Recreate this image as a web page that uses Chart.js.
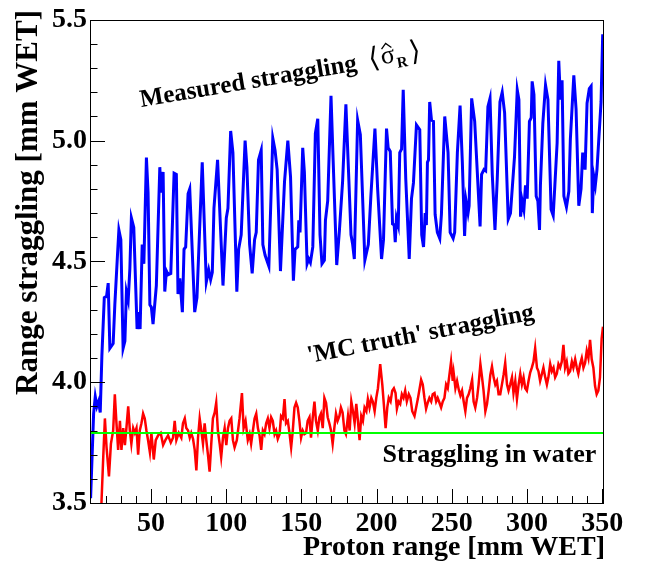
<!DOCTYPE html>
<html>
<head>
<meta charset="utf-8">
<script src="https://cdn.jsdelivr.net/npm/chart.js@4.4.0/dist/chart.umd.min.js"></script>
<style>
  html, body { margin: 0; padding: 0; background: #fff; }
  #wrap { width: 648px; height: 566px; }
</style>
</head>
<body>
<div id="wrap"><canvas id="chart"></canvas></div>
<script>
// ---------------------- Data ----------------------
const measuredX = [9.9, 11.9, 13.0, 14.1, 15.2, 16.3, 17.4, 19.0, 20.5, 21.6,
  22.7, 24.9, 26.0, 27.8, 28.7, 30.0, 31.5, 32.7, 33.7, 34.9,
  36.0, 37.0, 38.6, 40.8, 42.0, 42.8, 44.2, 45.3, 47.0, 48.1,
  49.3, 50.3, 51.4, 53.6, 55.9, 56.7, 58.1, 59.2, 60.3, 61.4,
  63.2, 65.4, 66.9, 68.0, 69.2, 70.9, 72.0, 73.1, 74.7, 75.8,
  79.1, 80.6, 84.1, 86.8, 88.4, 89.7, 90.8, 91.9, 94.3, 97.9,
  100.1, 101.2, 103.0, 104.5, 107.1, 108.3, 110.0, 112.6, 113.8, 115.6,
  117.3, 118.9, 120.0, 121.5, 123.3, 124.4, 125.9, 128.4, 131.0, 132.5,
  133.9, 136.1, 138.8, 141.0, 142.8, 144.7, 145.8, 147.6, 148.3, 149.1,
  150.9, 152.0, 153.8, 154.9, 156.0, 157.6, 159.3, 160.9, 162.4, 163.7,
  165.3, 166.0, 167.5, 169.7, 171.0, 173.5, 175.2, 177.4, 179.6, 183.0,
  184.1, 185.2, 187.4, 189.2, 192.2, 194.5, 196.2, 198.9, 200.7, 203.3,
  204.6, 206.6, 207.7, 209.1, 210.6, 211.7, 212.4, 213.2, 214.4, 215.4,
  216.6, 217.7, 219.4, 221.7, 223.2, 224.5, 226.5, 228.7, 230.0, 231.2,
  232.3, 233.1, 233.8, 234.5, 235.3, 236.5, 237.8, 238.9, 240.4, 242.0,
  243.1, 245.3, 247.5, 248.9, 250.9, 251.9, 253.7, 255.5, 257.0, 258.5,
  259.5, 260.8, 261.5, 263.2, 265.2, 268.8, 269.8, 271.4, 272.5, 274.0,
  275.4, 276.9, 278.7, 280.2, 282.0, 283.5, 285.1, 287.5, 289.0, 291.7,
  293.5, 294.6, 295.7, 296.8, 297.9, 299.0, 300.1, 301.6, 302.8, 303.4,
  304.6, 306.1, 307.2, 308.3, 308.9, 310.5, 312.3, 313.9, 316.0, 317.4,
  318.5, 320.0, 321.1, 322.2, 323.3, 324.5, 326.2, 327.8, 328.8, 331.1,
  332.6, 334.4, 335.9, 337.0, 338.6, 339.9, 341.4, 342.6, 343.4, 344.3,
  345.4, 346.5, 349.2, 350.3];
const measuredY = [3.52, 3.87, 3.94, 3.90, 3.92, 3.875, 4.11, 4.35, 4.355, 4.41,
  4.14, 4.16, 4.32, 4.53, 4.63, 4.59, 4.14, 4.17, 4.375, 4.34,
  4.47, 4.68, 4.64, 4.22, 4.29, 4.22, 4.57, 4.49, 4.93, 4.785,
  4.32, 4.31, 4.24, 4.40, 4.89, 4.785, 4.87, 4.375, 4.46, 4.445,
  4.45, 4.865, 4.86, 4.365, 4.43, 4.29, 4.55, 4.56, 4.78, 4.80,
  4.29, 4.35, 4.91, 4.415, 4.465, 4.425, 4.455, 4.72, 4.92, 4.40,
  4.68, 4.72, 5.04, 4.95, 4.375, 4.55, 4.61, 5.00, 4.89, 4.57,
  4.45, 4.59, 4.62, 4.92, 4.96, 4.57, 4.525, 4.48, 5.01, 4.96,
  4.88, 4.46, 4.83, 5.00, 4.85, 4.42, 4.55, 4.56, 4.67, 4.62,
  4.97, 4.87, 4.49, 4.51, 4.495, 4.56, 5.03, 5.09, 4.61, 4.49,
  4.505, 4.67, 4.75, 5.185, 4.94, 4.485, 4.62, 4.83, 5.15, 4.61,
  4.57, 4.51, 5.085, 5.025, 4.505, 4.57, 4.77, 5.05, 4.80, 4.51,
  4.59, 5.05, 4.97, 4.955, 4.655, 4.65, 4.58, 4.68, 4.65, 4.95,
  4.965, 5.21, 4.84, 4.51, 4.76, 4.825, 5.065, 5.045, 4.61, 4.56,
  4.70, 4.65, 4.91, 4.92, 5.16, 5.085, 5.08, 4.695, 4.62, 4.595,
  4.695, 5.10, 4.95, 4.62, 4.595, 4.62, 4.95, 5.145, 4.91, 4.605,
  4.75, 4.70, 4.73, 5.175, 5.08, 4.645, 4.86, 4.88, 4.875, 5.14,
  5.175, 4.86, 4.63, 4.84, 5.16, 5.20, 5.115, 4.675, 4.70, 4.935,
  5.21, 5.17, 4.685, 4.75, 4.715, 4.815, 4.76, 5.08, 5.095, 5.245,
  5.19, 4.77, 4.75, 4.63, 4.815, 5.07, 5.23, 5.17, 4.715, 4.69,
  4.815, 4.99, 5.33, 5.17, 5.25, 4.77, 4.725, 4.79, 5.005, 5.27,
  5.13, 4.73, 4.80, 4.95, 4.88, 5.155, 5.215, 5.225, 4.70, 4.855,
  4.815, 4.88, 5.16, 5.44];

const mcTruthX = [16.5, 18.3, 19.4, 20.5, 22.1, 23.4, 24.9, 26.0, 27.1, 28.2,
  29.4, 30.4, 31.6, 32.7, 33.7, 34.9, 36.0, 37.0, 38.2, 39.3,
  40.4, 41.5, 42.6, 43.7, 44.8, 45.9, 47.0, 48.1, 49.3, 50.3,
  51.9, 53.2, 54.8, 56.5, 58.1, 59.6, 61.4, 63.2, 64.7, 65.8,
  66.9, 68.5, 70.2, 71.3, 72.5, 73.5, 74.7, 75.8, 76.8, 78.0,
  79.1, 80.2, 81.3, 82.4, 83.5, 84.6, 85.7, 86.8, 87.9, 89.0,
  90.1, 91.2, 92.4, 93.4, 94.5, 95.7, 96.7, 97.9, 99.0, 100.1,
  101.2, 102.3, 103.4, 104.5, 105.6, 107.1, 108.9, 110.5, 111.6, 112.9,
  114.4, 115.6, 116.6, 117.8, 118.9, 120.0, 121.1, 122.2, 123.3, 124.4,
  125.5, 126.6, 127.7, 128.8, 129.9, 131.0, 132.2, 133.2, 134.3, 135.5,
  136.5, 137.7, 138.8, 139.8, 141.0, 142.1, 143.2, 144.3, 145.4, 146.5,
  147.6, 148.7, 149.8, 150.9, 152.0, 153.1, 154.2, 155.4, 156.4, 157.5,
  158.7, 159.7, 160.9, 162.0, 163.0, 164.2, 165.3, 166.4, 167.5, 168.6,
  169.7, 170.8, 171.9, 173.0, 174.1, 175.3, 176.3, 177.4, 178.6, 179.6,
  181.0, 182.1, 183.2, 184.3, 185.4, 186.5, 187.6, 188.7, 189.8, 190.9,
  192.0, 193.2, 194.2, 195.3, 196.5, 197.5, 198.7, 199.8, 200.9, 202.4,
  203.8, 204.8, 206.0, 207.1, 208.1, 209.3, 210.4, 211.5, 212.6, 213.5,
  214.6, 215.7, 216.8, 217.9, 219.0, 220.1, 221.4, 222.5, 223.7, 225.2,
  226.3, 227.4, 228.5, 229.6, 230.7, 231.8, 232.9, 234.0, 235.1, 236.3,
  237.3, 238.5, 239.6, 240.6, 241.8, 242.9, 244.0, 245.1, 246.2, 247.3,
  248.4, 249.5, 250.6, 251.2, 252.4, 253.5, 254.6, 255.7, 256.8, 257.9,
  259.0, 260.1, 261.2, 262.3, 263.5, 264.5, 265.6, 266.8, 267.8, 269.0,
  270.1, 271.1, 272.3, 273.4, 274.5, 275.6, 276.7, 277.8, 278.9, 280.0,
  281.1, 282.2, 283.3, 284.4, 285.5, 286.7, 287.7, 288.8, 290.0, 291.0,
  292.2, 293.3, 294.4, 295.5, 296.6, 297.7, 298.8, 299.9, 301.0, 302.1,
  303.2, 304.3, 305.4, 306.6, 307.6, 308.7, 309.9, 310.9, 312.1, 313.2,
  314.2, 315.4, 316.5, 317.6, 318.7, 319.8, 320.9, 322.0, 323.1, 324.2,
  325.3, 326.4, 327.5, 328.6, 329.8, 330.8, 332.0, 333.1, 334.1, 335.3,
  336.4, 337.5, 338.6, 339.7, 340.8, 341.9, 343.0, 344.1, 345.2, 346.3,
  347.4, 348.5, 349.6, 350.5];
const mcTruthY = [3.40, 3.69, 3.85, 3.73, 3.61, 3.745, 3.80, 3.95, 3.83, 3.72,
  3.84, 3.72, 3.81, 3.74, 3.81, 3.90, 3.80, 3.745, 3.81, 3.79,
  3.81, 3.70, 3.80, 3.83, 3.87, 3.85, 3.80, 3.76, 3.71, 3.79,
  3.68, 3.76, 3.78, 3.79, 3.74, 3.76, 3.78, 3.75, 3.77, 3.84,
  3.76, 3.79, 3.77, 3.83, 3.85, 3.81, 3.80, 3.77, 3.79, 3.765,
  3.72, 3.635, 3.77, 3.85, 3.80, 3.745, 3.83, 3.76, 3.70, 3.63,
  3.745, 3.85, 3.875, 3.915, 3.80, 3.745, 3.69, 3.77, 3.81, 3.74,
  3.81, 3.84, 3.85, 3.76, 3.73, 3.76, 3.85, 3.955, 3.81, 3.84,
  3.76, 3.785, 3.745, 3.80, 3.85, 3.87, 3.81, 3.78, 3.72, 3.80,
  3.785, 3.83, 3.85, 3.81, 3.855, 3.84, 3.785, 3.80, 3.765, 3.785,
  3.86, 3.85, 3.93, 3.83, 3.84, 3.79, 3.73, 3.80, 3.895, 3.915,
  3.895, 3.84, 3.77, 3.80, 3.785, 3.79, 3.84, 3.855, 3.77, 3.85,
  3.92, 3.84, 3.80, 3.855, 3.87, 3.81, 3.935, 3.915, 3.855, 3.83,
  3.80, 3.745, 3.81, 3.87, 3.84, 3.86, 3.895, 3.875, 3.80, 3.785,
  3.86, 3.80, 3.92, 3.88, 3.83, 3.91, 3.84, 3.76, 3.86, 3.84,
  3.895, 3.88, 3.93, 3.895, 3.935, 3.92, 3.88, 3.935, 3.975, 4.075,
  3.99, 3.91, 3.81, 3.895, 3.935, 3.92, 3.965, 3.975, 3.955, 3.89,
  3.92, 3.91, 3.95, 3.935, 3.965, 3.92, 3.95, 3.935, 3.88, 3.86,
  3.895, 3.93, 3.97, 4.01, 3.99, 3.935, 3.89, 3.915, 3.935, 3.92,
  3.95, 3.955, 3.92, 3.935, 3.915, 3.895, 3.92, 3.935, 3.99, 3.975,
  4.03, 4.085, 4.005, 4.04, 3.975, 4.005, 3.97, 3.945, 3.965, 3.92,
  3.88, 3.935, 3.95, 3.975, 4.01, 3.92, 3.895, 3.935, 3.99, 4.075,
  4.02, 3.965, 3.88, 3.91, 3.965, 4.03, 4.065, 4.02, 3.99, 4.005,
  3.95, 3.95, 3.99, 4.03, 4.08, 3.99, 3.965, 3.99, 4.02, 3.955,
  4.005, 3.93, 3.99, 4.035, 3.99, 4.02, 3.975, 3.965, 4.005, 4.04,
  4.06, 4.085, 4.14, 4.06, 4.045, 4.005, 4.035, 4.06, 4.02, 3.99,
  4.02, 4.075, 4.045, 4.06, 4.02, 4.035, 4.075, 4.06, 4.085, 4.155,
  4.06, 4.085, 4.035, 4.045, 4.085, 4.06, 4.095, 4.06, 4.035, 4.075,
  4.10, 4.06, 4.08, 4.13, 4.10, 4.175, 4.095, 4.06, 3.985, 3.95,
  3.965, 4.02, 4.18, 4.23];

const waterX = [9.5, 350.5];
const waterY = [3.79, 3.79];

const xTickValues = [50, 100, 150, 200, 250, 300, 350];
const yTickValues = [3.5, 4.0, 4.5, 5.0, 5.5];

// ---------------------- Helpers ----------------------
const SERIF = '"Liberation Serif", "Times New Roman", serif';
const pairs = (xs, ys) => xs.map((x, i) => ({ x, y: ys[i] }));

// ROOT-style frame: inside ticks, box, axis titles and text labels
const rootFrame = {
  id: 'rootFrame',
  afterDatasetsDraw(chart) {
    const { ctx, chartArea: a, scales: { x, y } } = chart;
    ctx.save();
    ctx.strokeStyle = '#000';
    ctx.lineWidth = 1;
    ctx.beginPath();
    // y ticks every 0.1, long every 0.5
    for (let i = 36; i <= 54; i++) {
      const py = Math.round(y.getPixelForValue(i / 10)) + 0.5;
      const len = i % 5 === 0 ? 15 : 7.5;
      ctx.moveTo(a.left, py);
      ctx.lineTo(a.left + len, py);
    }
    // x ticks every 10, long every 50
    for (let v = 20; v <= 350; v += 10) {
      const px = Math.round(x.getPixelForValue(v)) + 0.5;
      const len = v % 50 === 0 ? 14 : 7;
      ctx.moveTo(px, a.bottom);
      ctx.lineTo(px, a.bottom - len);
    }
    ctx.stroke();
    ctx.strokeRect(Math.round(a.left) + 0.5, Math.round(a.top) + 0.5,
      Math.round(a.right - a.left), Math.round(a.bottom - a.top));

    // axis titles
    ctx.fillStyle = '#000';
    ctx.textBaseline = 'alphabetic';
    ctx.textAlign = 'right';
    ctx.font = `bold 28px ${SERIF}`;
    ctx.fillText('Proton range [mm WET]', a.right + 2, 555);
    ctx.save();
    ctx.translate(37, 10);
    ctx.rotate(-Math.PI / 2);
    ctx.font = `bold 31px ${SERIF}`;
    ctx.fillText('Range straggling [mm WET]', 0, 0);
    ctx.restore();

    // curve labels, anchored in data coordinates
    ctx.textAlign = 'left';
    const label = (vx, vy, deg, draw) => {
      ctx.save();
      ctx.translate(x.getPixelForValue(vx), y.getPixelForValue(vy));
      ctx.rotate(deg * Math.PI / 180);
      draw();
      ctx.restore();
    };
    label(43.5, 5.139, -9.6, () => {
      ctx.font = `bold 25px ${SERIF}`;
      const t = 'Measured straggling';
      ctx.fillText(t, 0, 0);
      let cx = ctx.measureText(t).width + 12;
      ctx.font = `28px ${SERIF}`;
      ctx.fillText('\u27E8', cx, 0);
      cx += ctx.measureText('\u27E8').width + 2;
      ctx.font = `26px ${SERIF}`;
      ctx.fillText('\u03C3', cx, -2);
      const sw = ctx.measureText('\u03C3').width;
      // hat over sigma
      ctx.lineWidth = 1.3;
      ctx.beginPath();
      ctx.moveTo(cx + sw / 2 - 5, -17);
      ctx.lineTo(cx + sw / 2, -22);
      ctx.lineTo(cx + sw / 2 + 5, -17);
      ctx.stroke();
      cx += sw + 1;
      ctx.font = `bold 15px ${SERIF}`;
      ctx.fillText('R', cx, 4);
      cx += ctx.measureText('R').width + 3;
      ctx.font = `28px ${SERIF}`;
      ctx.fillText('\u27E9', cx, 0);
    });
    label(154.9, 4.079, -11, () => {
      ctx.font = `bold 25px ${SERIF}`;
      ctx.fillText("'MC truth' straggling", 0, 0);
    });
    label(204, 3.67, 0, () => {
      ctx.font = `bold 26px ${SERIF}`;
      ctx.fillText('Straggling in water', 0, 0);
    });
    ctx.restore();
  },
};

// ---------------------- Chart ----------------------
new Chart(document.getElementById('chart'), {
  type: 'line',
  data: {
    datasets: [
      { label: 'Straggling in water', data: pairs(waterX, waterY),
        borderColor: '#00ff00', borderWidth: 2, order: 0 },
      { label: "'MC truth' straggling", data: pairs(mcTruthX, mcTruthY),
        borderColor: '#ff0000', borderWidth: 2.5, order: 1 },
      { label: 'Measured straggling', data: pairs(measuredX, measuredY),
        borderColor: '#0000ff', borderWidth: 3, order: 2 },
    ],
  },
  options: {
    responsive: true,
    maintainAspectRatio: false,
    animation: false,
    events: [],
    layout: { padding: { left: 0, top: 16, right: 45, bottom: 0 } },
    elements: {
      point: { radius: 0 },
      line: { tension: 0, fill: false },
    },
    datasets: { line: { clip: 0 } },
    plugins: { legend: { display: false }, tooltip: { enabled: false } },
    scales: {
      x: {
        type: 'linear',
        min: 9.5,
        max: 350.5,
        afterBuildTicks: (s) => { s.ticks = xTickValues.map(value => ({ value })); },
        afterFit: (s) => { s.height = 63; },
        grid: { display: false, drawTicks: false },
        border: { display: false },
        ticks: {
          padding: 4,
          color: '#000',
          maxRotation: 0,
          autoSkip: false,
          font: { family: SERIF, size: 28, weight: 'bold' },
          callback: (v) => String(v),
        },
      },
      y: {
        type: 'linear',
        min: 3.5,
        max: 5.5,
        afterBuildTicks: (s) => { s.ticks = yTickValues.map(value => ({ value })); },
        afterFit: (s) => { s.width = 90; },
        grid: { display: false, drawTicks: false },
        border: { display: false },
        ticks: {
          padding: 3,
          color: '#000',
          autoSkip: false,
          font: { family: SERIF, size: 28, weight: 'bold' },
          callback: (v) => v.toFixed(1),
        },
      },
    },
  },
  plugins: [rootFrame],
});
</script>
</body>
</html>
